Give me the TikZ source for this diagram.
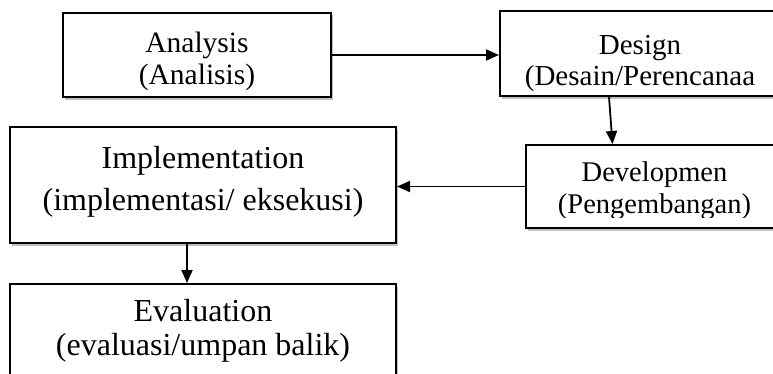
\documentclass[tikz,border=0pt]{standalone}
\usepackage{fontspec}
\setmainfont{Liberation Serif}
\usepackage{tikz}
\usetikzlibrary{
  arrows.meta,
  positioning,
  shadows
}

\begin{document}
\begin{tikzpicture}[x=1pt, y=1pt, >={Triangle[length=13pt,width=11pt]},
  stage/.style={draw, line width=2pt, fill=white, align=center, inner sep=0pt,
    drop shadow={shadow xshift=1.5pt, shadow yshift=-2.5pt, fill=black, opacity=0.25}},
  flow/.style={->, line width=1.8pt}]
\clip (0,0) rectangle (773,373);
\fill[white] (0,0) rectangle (773,373);

\node[stage, minimum width=268pt, minimum height=84pt, font=\fontsize{29.5}{32}\selectfont]
  (analysis) at (197,318) {\rule{0pt}{33pt}Analysis\\(Analisis)};
\node[stage, minimum width=280pt, minimum height=85pt, font=\fontsize{29}{31}\selectfont]
  (design) at (640,319.5) {\rule{0pt}{40pt}Design\\(Desain/Perencanaa};
\node[stage, minimum width=257pt, minimum height=83pt,
  path picture={
    \clip ([yshift=11pt]path picture bounding box.south west) rectangle (path picture bounding box.north east);
    \node[align=center, font=\fontsize{28.5}{32}\selectfont] at ([yshift=-4pt]path picture bounding box.center)
      {Developmen\\(Pengembangan)};
  }] (develop) at (654.5,186.5) {};
\node[stage, minimum width=386pt, minimum height=116pt, font=\fontsize{32}{42}\selectfont]
  (implement) at (203,188) {Implementation\\(implementasi/ eksekusi)\rule[-13pt]{0pt}{13pt}};
\node[stage, minimum width=386pt, minimum height=94pt, font=\fontsize{32}{34}\selectfont]
  (evaluation) at (203,42) {Evaluation\\(evaluasi/umpan balik)};

% alur tahapan
\draw[flow] (analysis.east) -- (analysis.east -| design.west);
\draw[flow] ([xshift=-31pt]design.south) -- ([xshift=-42pt]develop.north);
\draw[flow] (develop.west) -- (develop.west -| implement.east);
\draw[flow] ([xshift=-16pt]implement.south) -- ([xshift=-16pt]evaluation.north);
\end{tikzpicture}
\end{document}
